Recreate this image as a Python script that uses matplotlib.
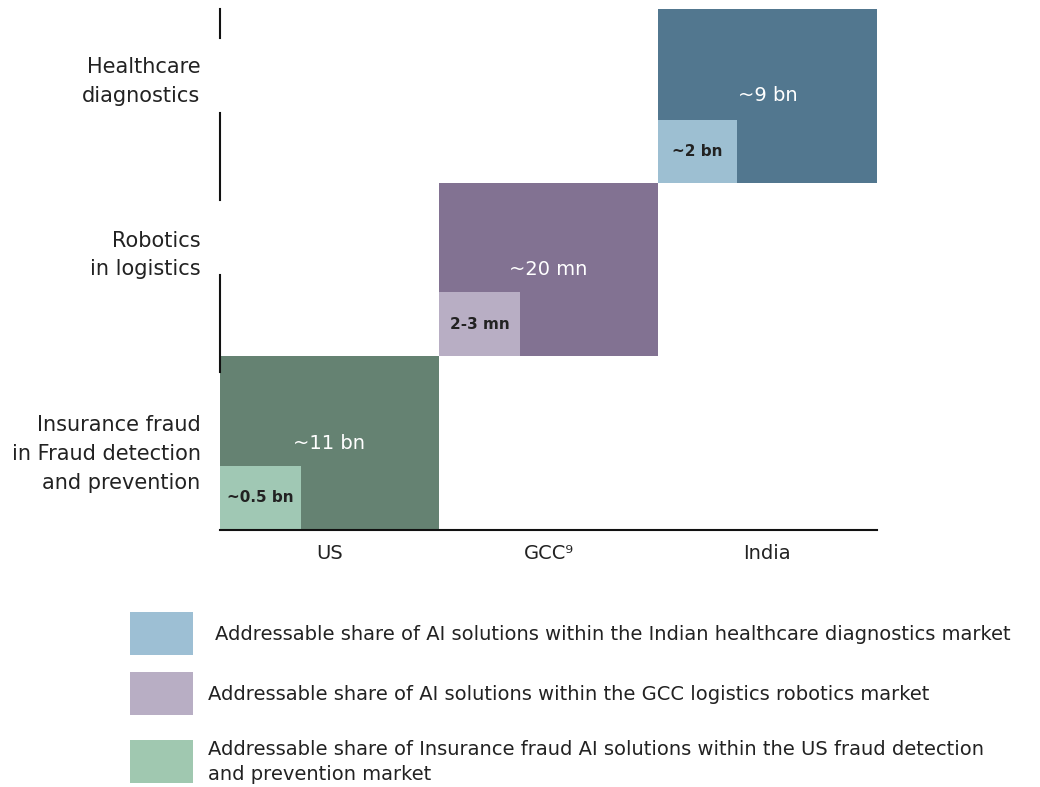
# Addressable AI share by market - block chart.
import matplotlib
matplotlib.use('Agg')
import matplotlib.pyplot as plt
from matplotlib.patches import Rectangle

plt.rcParams['font.family'] = ['DejaVu Sans']

# Data.
markets = ['US', 'GCC\u2079', 'India']
sectors = ['Insurance fraud\nin Fraud detection\nand prevention', 'Robotics\nin logistics', 'Healthcare\ndiagnostics']
total_labels = ['~11 bn', '~20 mn', '~9 bn']
share_labels = ['~0.5 bn', '2-3 mn', '~2 bn']
share_frac = [0.37, 0.37, 0.36]
legend_texts = ['Addressable share of AI solutions within the Indian healthcare diagnostics market',
                'Addressable share of AI solutions within the GCC logistics robotics market',
                'Addressable share of Insurance fraud AI solutions within the US fraud detection\nand prevention market']

# Colours.
big_colors = ['#658272', '#827292', '#52778f']
small_colors = ['#a0c8b4', '#b8aec4', '#9dbfd2']
legend_colors = ['#9dbfd4', '#b8aec4', '#a0c8b0']

fig = plt.figure(figsize=(10.4, 7.87), dpi=100)
ax = fig.add_axes([0.2115, 0.3266, 0.6317, 0.662])

for i in range(len(markets)):
    ax.add_patch(Rectangle((i, i), 1, 1, color=big_colors[i], lw=0))
    f = share_frac[i]
    ax.add_patch(Rectangle((i, i), f, f, color=small_colors[i], lw=0))
    ax.text(i + 0.5, i + 0.5, total_labels[i], color='white', fontsize=14,
            ha='center', va='center')
    ax.text(i + f / 2, i + f / 2, share_labels[i], color='#222222', fontsize=11,
            fontweight='bold', ha='center', va='center')

ax.set_xlim(0, 3)
ax.set_ylim(0, 3)
ax.set_xticks([0.5, 1.5, 2.5])
ax.set_xticklabels(markets, fontsize=14, color='#222222')
ax.set_yticks([0.475, 1.62, 2.62])
ax.set_yticklabels(sectors, fontsize=15, color='#222222', ha='right', linespacing=1.55)
ax.tick_params(length=0, pad=10)
ax.tick_params(axis='y', pad=14)

for s in ['top', 'right', 'left']:
    ax.spines[s].set_visible(False)
ax.spines['bottom'].set_linewidth(1.5)
ax.spines['bottom'].set_color('#111111')

# broken left axis line
for y0, y1 in [(2.83, 3.0), (1.90, 2.40), (0.91, 1.47)]:
    ax.plot([0, 0], [y0, y1], color='#111111', lw=1.5, clip_on=False)

# legend
W, H = 1040, 787
tx = [215, 208, 208]
for k, (txt, c) in enumerate(zip(legend_texts, legend_colors)):
    top = [612, 672, 740][k]
    fig.add_artist(Rectangle((130 / W, 1 - (top + 43) / H), 63 / W, 43 / H,
                             color=c, lw=0, transform=fig.transFigure))
    fig.text(tx[k] / W, 1 - (top + 22) / H, txt,
             fontsize=14, color='#222222', va='center', ha='left', linespacing=1.45)

fig.savefig('out.png', dpi=100)
